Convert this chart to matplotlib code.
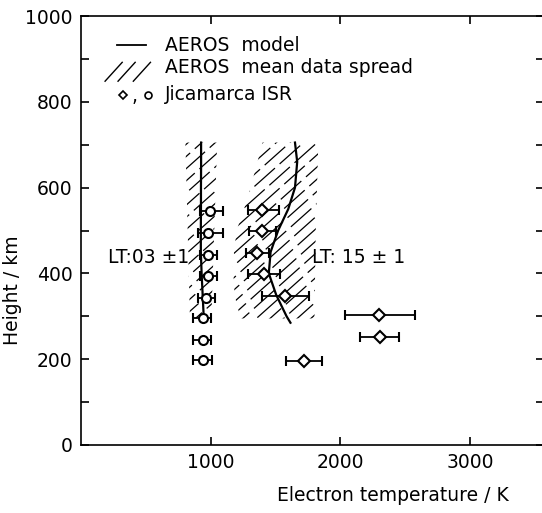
import matplotlib
matplotlib.use("Agg")
import numpy as np
import matplotlib.pyplot as plt
from matplotlib.patches import Polygon
from matplotlib.ticker import MultipleLocator

plt.rcParams['font.family'] = ['DejaVu Sans']

# Jicamarca ISR, LT 03 (circles)
h_lt03 = [545, 495, 442, 394, 343, 295, 245, 197]
te_lt03 = [993, 983, 982, 982, 962, 942, 940, 940]
lo_lt03 = [918, 903, 918, 918, 902, 867, 867, 867]
hi_lt03 = [1098, 1092, 1050, 1048, 1032, 1003, 1005, 1008]

# Jicamarca ISR, LT 15 (diamonds)
h_lt15 = [547, 498, 448, 398, 347, 303, 251, 196]
te_lt15 = [1392, 1397, 1359, 1411, 1570, 2300, 2308, 1718]
lo_lt15 = [1290, 1297, 1274, 1290, 1392, 2033, 2154, 1577]
hi_lt15 = [1525, 1500, 1448, 1538, 1758, 2572, 2454, 1856]

# AEROS model profiles
model_h03 = [705, 650, 600, 550, 500, 450, 400, 350, 300, 288]
model_te03 = [926, 926, 925, 925, 924, 924, 930, 938, 946, 948]
model_h15 = [705, 660, 600, 550, 500, 450, 400, 350, 300, 285]
model_te15 = [1650, 1667, 1650, 1598, 1520, 1462, 1448, 1505, 1585, 1615]

# AEROS mean data spread (outline of hatched areas)
spread03_te = [805, 1050, 1005, 840]
spread03_h = [705, 705, 295, 295]
spread15_te = [1400, 1830, 1810, 1800, 1230, 1185, 1170, 1200, 1290]
spread15_h = [705, 705, 500, 295, 295, 348, 425, 500, 580]

fig = plt.figure(figsize=(5.42, 5.13), dpi=100)
ax = fig.add_axes([81 / 542, 68 / 513, 463 / 542, 429 / 513])
ax.set_xlim(0, 3570)
ax.set_ylim(0, 1000)

# diagonal hatching, ~105 K apart, clipped to each spread area
slope = 0.27  # km per K
for te, h in [(spread03_te, spread03_h), (spread15_te, spread15_h)]:
    poly = Polygon(list(zip(te, h)), closed=True, fill=False, lw=0)
    ax.add_patch(poly)
    for i, c in enumerate(np.arange(min(te) - 2800, max(te) + 100, 105)):
        x = np.array([c, c + 3000])
        ln, = ax.plot(x, slope * (x - c), color='black', lw=0.9,
                      linestyle=((i * 11) % 27, (22, 5)))
        ln.set_clip_path(poly)

ax.plot(model_te03, model_h03, color='black', lw=1.6)
ax.plot(model_te15, model_h15, color='black', lw=1.6)

xerr03 = [[t - l for t, l in zip(te_lt03, lo_lt03)], [u - t for t, u in zip(te_lt03, hi_lt03)]]
xerr15 = [[t - l for t, l in zip(te_lt15, lo_lt15)], [u - t for t, u in zip(te_lt15, hi_lt15)]]
ax.errorbar(te_lt03, h_lt03, xerr=xerr03, fmt='o', ms=6.5, mfc='white', mec='black',
            mew=1.5, ecolor='black', elinewidth=1.3, capsize=3.5, capthick=1.3, zorder=3)
ax.errorbar(te_lt15, h_lt15, xerr=xerr15, fmt='D', ms=6, mfc='white', mec='black',
            mew=1.5, ecolor='black', elinewidth=1.3, capsize=3.5, capthick=1.3, zorder=3)

ax.text(208, 438, 'LT:03 ±1', fontsize=13.5, va='center', ha='left')
ax.text(1785, 438, 'LT: 15 ± 1', fontsize=13.5, va='center', ha='left')

# legend
ax.plot([0.078, 0.140], [0.932, 0.932], color='black', lw=1.3, transform=ax.transAxes)
for x0 in [0.052, 0.080, 0.113]:
    ax.plot([x0, x0 + 0.037], [0.848, 0.892], color='black', lw=1.0, transform=ax.transAxes)
ax.plot([0.091], [0.816], marker='D', ms=4.5, mfc='white', mec='black', mew=1.2,
        transform=ax.transAxes)
ax.plot([0.145], [0.816], marker='o', ms=5, mfc='white', mec='black', mew=1.2,
        transform=ax.transAxes)
ax.text(0.110, 0.812, ',', fontsize=13.5, va='center', transform=ax.transAxes)
ax.text(0.181, 0.932, 'AEROS  model', fontsize=13.5, va='center', transform=ax.transAxes)
ax.text(0.181, 0.879, 'AEROS  mean data spread', fontsize=13.5, va='center', transform=ax.transAxes)
ax.text(0.181, 0.816, 'Jicamarca ISR', fontsize=13.5, va='center', transform=ax.transAxes)

ax.xaxis.set_major_locator(MultipleLocator(1000))
ax.yaxis.set_major_locator(MultipleLocator(200))
ax.yaxis.set_minor_locator(MultipleLocator(100))
ax.tick_params(which='both', direction='in', top=True, right=True, length=6,
               width=1.2, labelsize=13.5, pad=6)
ax.set_xticks([1000, 2000, 3000])
for s in ax.spines.values():
    s.set_linewidth(1.2)

ax.set_xlabel('Electron temperature / K', fontsize=13.5)
ax.xaxis.set_label_coords(0.674, -0.095)
ax.set_ylabel('Height / km', fontsize=13.5)
ax.yaxis.set_label_coords(-0.128, 0.36)

fig.savefig('out.png', dpi=100)
